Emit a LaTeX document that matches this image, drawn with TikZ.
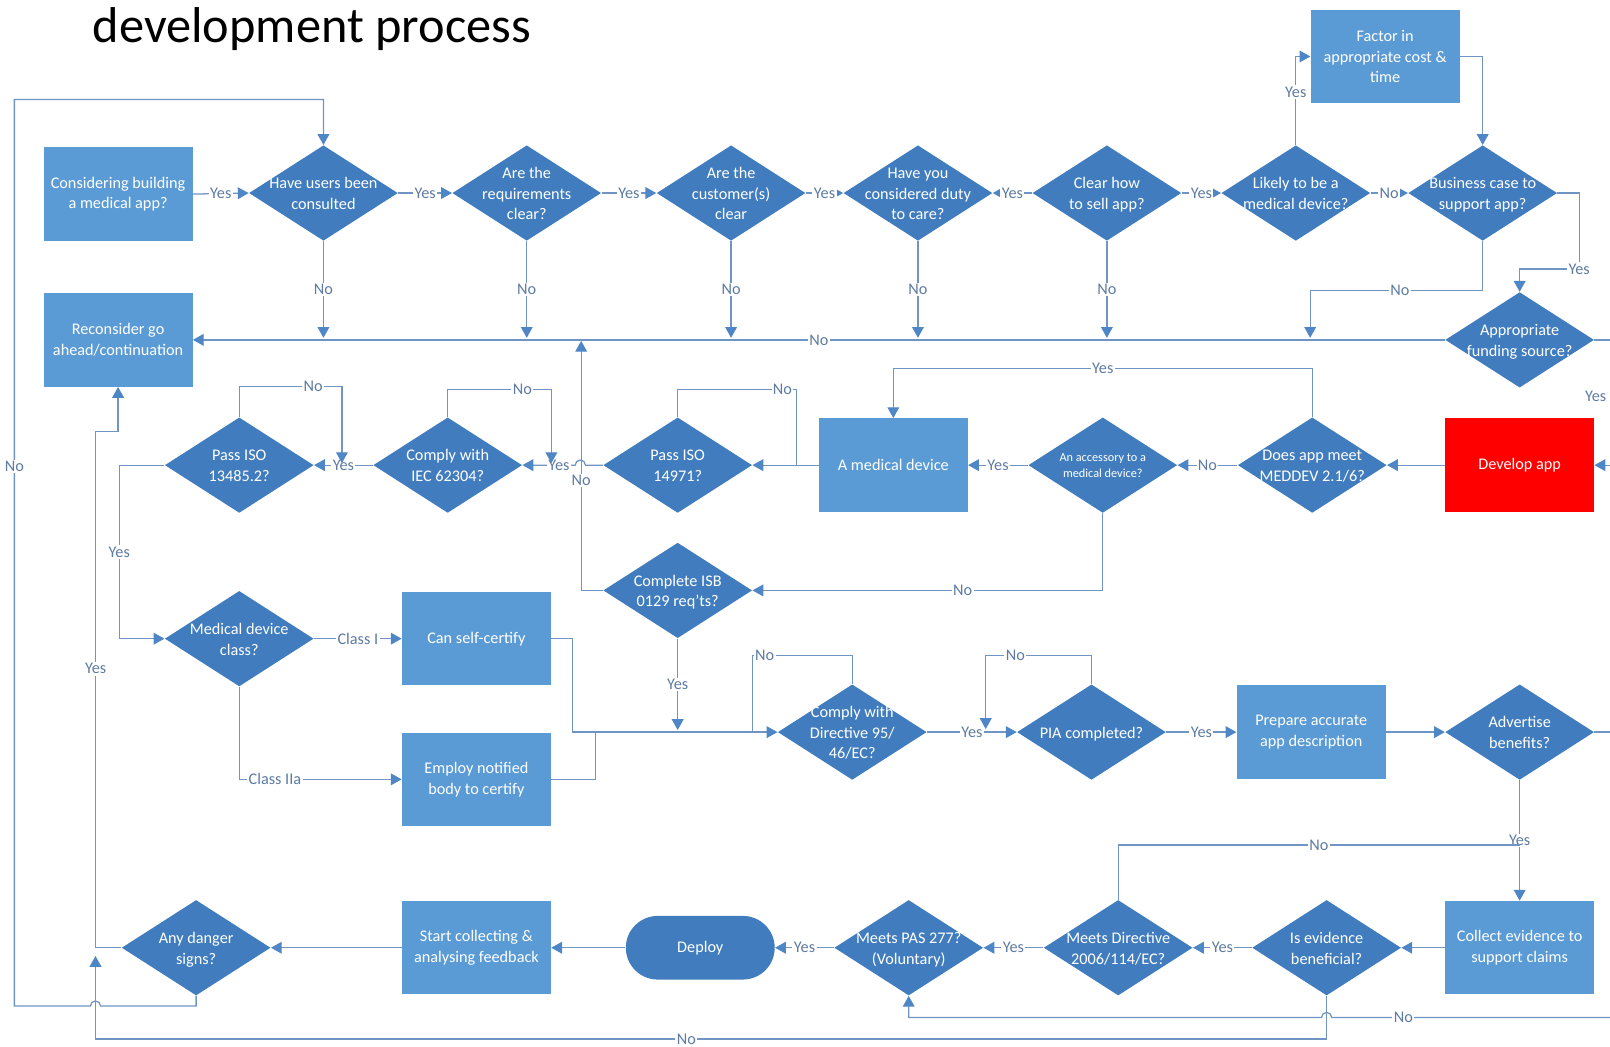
\documentclass[tikz,border=0pt]{standalone}
\usepackage{fontspec}
\setmainfont{Carlito}
\usetikzlibrary{shapes.geometric,arrows.meta}

\definecolor{diablue}{HTML}{417DBE}
\definecolor{boxblue}{HTML}{5B9BD5}
\definecolor{wireblue}{HTML}{7094C4}
\definecolor{tipblue}{HTML}{4F86C6}
\definecolor{lblgray}{HTML}{5E7BA2}
\definecolor{devred}{HTML}{FF0000}

\newcommand\dq[1]{\smash{\makebox[0pt]{\raisebox{-0.37em}{\begin{tabular}{@{}c@{}}#1\end{tabular}}}}}

\tikzset{
  box/.style={rectangle, fill=boxblue, text=white, minimum width=2.9cm, minimum height=1.82cm,
    align=center, inner sep=2pt, font=\fontsize{9}{11.5}\selectfont},
  dia/.style={diamond, fill=diablue, text=white, minimum width=2.9cm, minimum height=1.86cm,
    inner sep=0pt, font=\fontsize{9}{11.5}\selectfont},
  pill/.style={rectangle, rounded corners=0.62cm, fill=diablue, text=white, minimum width=2.9cm,
    minimum height=1.24cm, font=\fontsize{9}{11.5}\selectfont},
  wire/.style={draw=wireblue, line width=0.7pt},
  link/.style={wire, -{Triangle[length=6pt,width=6.5pt,color=tipblue]}},
  lbl/.style={fill=white, text=lblgray, inner sep=0.8pt, font=\fontsize{9}{11}\selectfont},
  title/.style={text=black, inner sep=0pt, font=\fontsize{27.9}{33}\selectfont}
}

\begin{document}
\begin{tikzpicture}[x=0.02cm,y=-0.02cm]
\useasboundingbox (0,0) rectangle (1568,1019);
\clip (0,0) rectangle (1568,1019);

\node[title,anchor=base west] (title) at (90,41) {development process};

\node[box] (consider) at (115,189) {Considering building\\a medical app?};
\node[box] (reconsider) at (115,331) {Reconsider go\\ahead/continuation};
\node[dia] (users) at (315,188) {\dq{Have users been\\consulted}};
\node[dia] (reqs) at (513,188) {\dq{Are the\\requirements\\clear?}};
\node[dia] (cust) at (712,188) {\dq{Are the\\customer(s)\\clear}};
\node[dia] (duty) at (894,188) {\dq{Have you\\considered duty\\to care?}};
\node[dia] (sell) at (1078,188) {\dq{Clear how\\to sell app?}};
\node[dia] (likely) at (1262,188) {\dq{Likely to be a\\medical device?}};
\node[dia] (bcase) at (1444,188) {\dq{Business case to\\support app?}};
\node[box] (factor) at (1349,55) {Factor in\\appropriate cost \&\\time};
\node[dia] (funding) at (1480,331) {\dq{Appropriate\\funding source?}};

\node[box,fill=devred] (develop) at (1480,453) {Develop app};
\node[dia] (meddev) at (1278,453) {\dq{Does app meet\\MEDDEV 2.1/6?}};
\node[dia,font=\fontsize{6.8}{8.5}\selectfont] (access) at (1074,453) {\dq{An accessory to a\\medical device?}};
\node[box] (meddevice) at (870,453) {A medical device};
\node[dia] (iso14971) at (660,453) {\dq{Pass ISO\\14971?}};
\node[dia] (iec) at (436,453) {\dq{Comply with\\IEC 62304?}};
\node[dia] (iso13485) at (233,453) {\dq{Pass ISO\\13485.2?}};

\node[dia] (mdclass) at (233,622) {\dq{Medical device\\class?}};
\node[box] (selfcert) at (464,622) {Can self-certify};
\node[box] (notified) at (464,759) {Employ notified\\body to certify};
\node[dia] (iso0129) at (660,575) {\dq{Complete ISB\\0129 req'ts?}};
\node[dia] (dir95) at (830,713) {\dq{Comply with\\Directive 95/\\46/EC?}};
\node[dia] (pia) at (1063,713) {\dq{PIA completed?}};
\node[box] (prepare) at (1277,713) {Prepare accurate\\app description};
\node[dia] (advertise) at (1480,713) {\dq{Advertise\\benefits?}};

\node[box] (collect) at (1480,923) {Collect evidence to\\support claims};
\node[dia] (evid) at (1292,923) {\dq{Is evidence\\beneficial?}};
\node[dia] (dir2006) at (1089,923) {\dq{Meets Directive\\2006/114/EC?}};
\node[dia] (pas) at (885,923) {\dq{Meets PAS 277?\\(Voluntary)}};
\node[pill] (deploy) at (682,923) {Deploy};
\node[box] (feedback) at (464,923) {Start collecting \&\\analysing feedback};
\node[dia] (danger) at (191,923) {\dq{Any danger\\signs?}};

\coordinate (bus) at (0,329);
\coordinate (nob) at (1276,329);
\coordinate (fy) at (1538,262);
\coordinate (j14971) at (776,453);
\coordinate (up0129) at (566,332);
\coordinate (jiec) at (537,451);
\coordinate (j13485) at (333,451);
\coordinate (j95) at (580,713);
\coordinate (j95b) at (733,713);
\coordinate (j0129) at (660,711);
\coordinate (jpia) at (960,710);
\coordinate (jadv) at (1480,823);
\coordinate (advoff) at (1600,713);
\coordinate (jdanger) at (93,931);
\coordinate (noright) at (1600,991);

\foreach \a/\b in {consider/users,users/reqs,reqs/cust,cust/duty,sell/likely}
  \draw[link] (\a.east) -- node[lbl]{Yes} (\b.west);
\draw[link] (sell.west) -- node[lbl]{Yes} (duty.east);
\draw[link] (likely.east) -- node[lbl]{No} (bcase.west);
\foreach \n in {users,reqs,cust,duty,sell}
  \draw[link] (\n.south) -- node[lbl]{No} (\n.south |- bus);
\draw[link] (likely.north) |- node[lbl,pos=0.3]{Yes} (factor.west);
\draw[link] (factor.east) -| (bcase.north);
\draw[link] (bcase.south) -- ++(0,48) -| node[lbl,pos=0.24]{No} (nob);
\draw[link] (bcase.east) -| (fy) node[lbl]{Yes} -| (funding.north);
\draw[link] (funding.west) -- node[lbl]{No} (reconsider.east);
\draw[link] (funding.east) -- ++(47,0) node[lbl] at (1554,386) {Yes} |- (develop.east);

\draw[link] (develop.west) -- (meddev.east);
\draw[link] (meddev.west) -- node[lbl]{No} (access.east);
\draw[link] (meddev.north) -- ++(0,-47) -| node[lbl,pos=0.25]{Yes} (meddevice.north);
\draw[link] (access.west) -- node[lbl]{Yes} (meddevice.east);
\draw[link] (access.south) |- node[lbl,pos=0.7]{No} (iso0129.east);
\draw[link] (meddevice.west) -- (iso14971.east);
\draw[wire] (iso14971.north) -- ++(0,-27) -| node[lbl,pos=0.44]{No} (j14971);
\draw[link] (iso14971.west) -- ++(-17,0) arc (0:-180:5) -- node[lbl,pos=0.31]{Yes} (iec.east);
\draw[link] (iso0129.west) -| node[lbl,pos=0.72]{No} (up0129);
\draw[link] (iec.north) -- ++(0,-27) -| node[lbl,pos=0.36]{No} (jiec);
\draw[link] (iec.west) -- node[lbl]{Yes} (iso13485.east);
\draw[link] (iso13485.north) -- ++(0,-30) -| node[lbl,pos=0.36]{No} (j13485);
\draw[link] (iso13485.west) -- ++(-44,0) |- node[lbl,pos=0.25]{Yes} (mdclass.west);

\draw[link] (mdclass.east) -- node[lbl]{Class I} (selfcert.west);
\draw[link] (mdclass.south) |- node[lbl,pos=0.61]{Class IIa} (notified.west);
\draw[link] (selfcert.east) -- ++(21,0) |- (dir95.west);
\draw[wire] (notified.east) -| (j95);
\draw[link] (iso0129.south) -- node[lbl]{Yes} (j0129);
\draw[wire] (dir95.north) -- ++(0,-28) -| node[lbl,pos=0.44]{No} (j95b);
\draw[link] (dir95.east) -- node[lbl]{Yes} (pia.west);
\draw[link] (pia.north) -- ++(0,-28) -| node[lbl,pos=0.36]{No} (jpia);
\draw[link] (pia.east) -- node[lbl]{Yes} (prepare.west);
\draw[link] (prepare.east) -- (advertise.west);
\draw[wire] (advertise.east) -- (advoff);
\draw[link] (advertise.south) -- node[lbl]{Yes} (collect.north);

\draw[wire] (dir2006.north) |- node[lbl,pos=0.75]{No} (jadv);
\draw[link] (collect.west) -- (evid.east);
\draw[link] (evid.west) -- node[lbl]{Yes} (dir2006.east);
\draw[link] (dir2006.west) -- node[lbl]{Yes} (pas.east);
\draw[link] (pas.west) -- node[lbl]{Yes} (deploy.east);
\draw[link] (deploy.west) -- (feedback.east);
\draw[link] (feedback.west) -- (danger.east);
\draw[link] (danger.west) -- ++(-25,0) -- node[lbl,pos=0.54]{Yes} ++(0,-503) -| (reconsider.south);
\draw[link] (danger.south) -- ++(0,10) -- ++(-93,0) arc (0:-180:5) -- ++(-74,0)
  -- node[lbl,pos=0.595]{No} ++(0,-883) -| (users.north);
\draw[link] (evid.south) -- ++(0,42) -| node[lbl,pos=0.26]{No} (jdanger);
\draw[link] (noright) -- node[lbl,pos=0.77]{No} ++(-303,0) arc (0:-180:5) -| (pas.south);
\end{tikzpicture}
\end{document}
